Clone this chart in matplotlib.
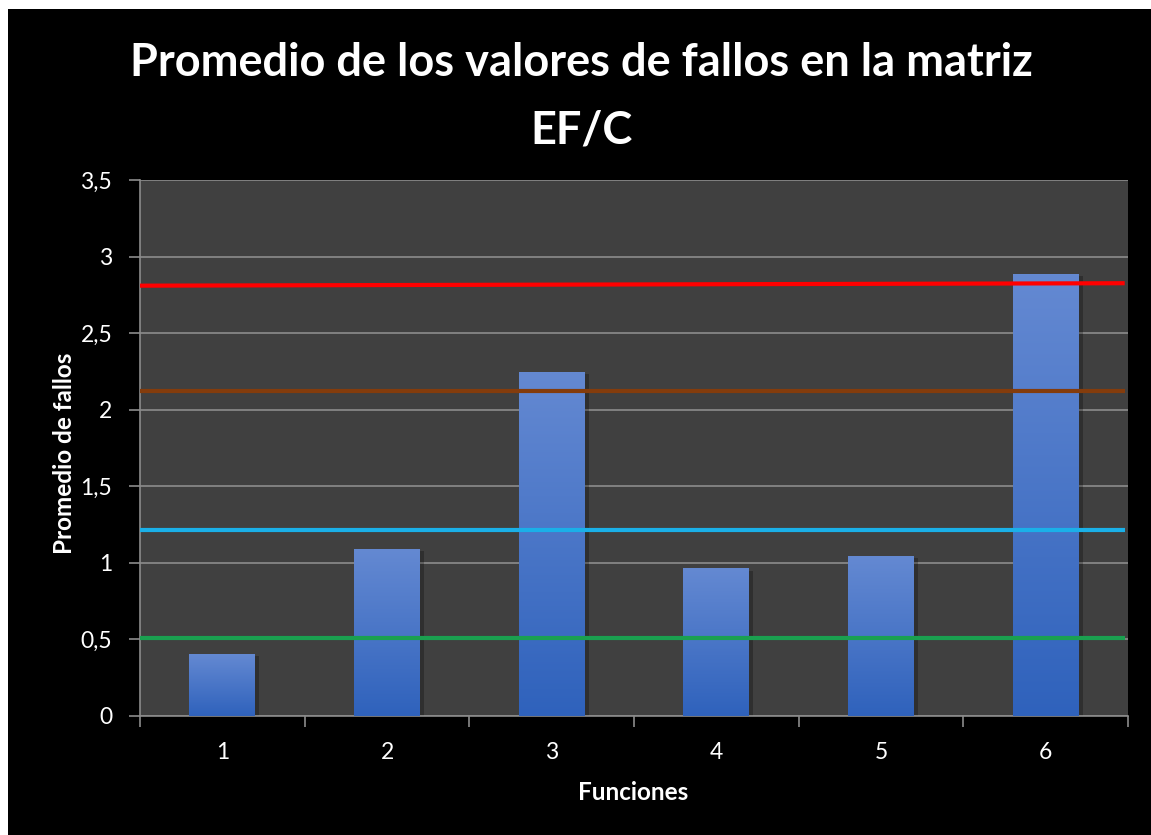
import numpy as np
import matplotlib.pyplot as plt
from matplotlib.colors import LinearSegmentedColormap

# Data
funciones = [1, 2, 3, 4, 5, 6]
promedios = [0.40, 1.09, 2.24, 0.96, 1.04, 2.88]

# Reference lines (value at left edge, value at right edge)
ref_lines = {
    'red': (2.81, 2.826),
    '#843c0c': (2.12, 2.12),
    '#1ab0e8': (1.215, 1.215),
    '#1aa050': (0.51, 0.51),
}
ref_colors = {'red': '#ff0000', '#843c0c': '#843c0c', '#1ab0e8': '#1ab0e8', '#1aa050': '#1aa050'}

plt.rcParams['font.family'] = ['Lato', 'DejaVu Sans']

fig = plt.figure(figsize=(11.51, 8.35), dpi=100, facecolor='white')
# black chart area with small white margin on top / left
fig.patches.append(plt.Rectangle((8 / 1151, 0), 1, 1 - 9 / 835, transform=fig.transFigure,
                                 facecolor='black', edgecolor='none', zorder=-10))

ax = fig.add_axes([140 / 1151, 1 - 716 / 835, (1128 - 140) / 1151, (716 - 180) / 835])
ax.set_facecolor('#404040')

xmin, xmax = 0.5, 6.5
ax.set_xlim(xmin, xmax)
ax.set_ylim(0, 3.5)

# gridlines
ax.set_yticks(np.arange(0, 3.51, 0.5))
ax.yaxis.grid(True, color='#8c8c8c', linewidth=1.2, zorder=1)
ax.set_axisbelow(True)

# gradient bars
cmap = LinearSegmentedColormap.from_list('bar', ['#2f62bc', '#6489d2'])
grad = np.linspace(0, 1, 256).reshape(-1, 1)
width = 0.4
for x, v in zip(funciones, promedios):
    # soft shadow
    ax.add_patch(plt.Rectangle((x - width / 2 + 0.015, 0), width + 0.01, v - 0.01,
                               facecolor='black', alpha=0.25, edgecolor='none', zorder=2))
    ax.imshow(grad, cmap=cmap, origin='lower', aspect='auto',
              extent=(x - width / 2, x + width / 2, 0, v), zorder=3)
ax.set_xlim(xmin, xmax)
ax.set_ylim(0, 3.5)

# horizontal reference lines
for key, (y0, y1) in ref_lines.items():
    ax.plot([xmin + 0.0, xmax - 0.02], [y0, y1], color=ref_colors[key], linewidth=3, zorder=4,
            solid_capstyle='butt')

# axes styling
for s in ['top', 'right']:
    ax.spines[s].set_visible(False)
ax.spines['left'].set_color('#8c8c8c')
ax.spines['bottom'].set_color('#8c8c8c')
ax.spines['left'].set_linewidth(1.2)
ax.spines['bottom'].set_linewidth(1.2)

ax.set_yticklabels([('%g' % t).replace('.', ',') for t in np.arange(0, 3.51, 0.5)])
ax.set_xticks(np.arange(0.5, 6.51, 1))
ax.set_xticklabels([])
ax.set_xticks(funciones, minor=True)
ax.set_xticklabels([str(f) for f in funciones], minor=True)
ax.tick_params(axis='x', which='major', length=8, color='#8c8c8c', width=1.2)
ax.tick_params(axis='x', which='minor', length=0, pad=19, labelsize=16.5, labelcolor='white')
ax.tick_params(axis='y', length=8, color='#8c8c8c', width=1.2, labelsize=16.5, labelcolor='white', pad=12)

ax.set_xlabel('Funciones', color='white', fontsize=17.5, fontweight='bold', va='center')
ax.xaxis.set_label_coords(0.5 + (633 - 634) / 988, (716 - 792) / 536)
ax.set_ylabel('Promedio de fallos', color='white', fontsize=17.5, fontweight='bold', va='center')
ax.yaxis.set_label_coords((65 - 140) / 988, 0.5 + (716 - 453 - 268) / 536)

fig.text(0.505, 1 - 63 / 835, 'Promedio de los valores de fallos en la matriz',
         ha='center', va='center', color='white', fontsize=32.5, fontweight='bold')
fig.text(0.505, 1 - 130 / 835, 'EF/C',
         ha='center', va='center', color='white', fontsize=32.5, fontweight='bold')

fig.savefig('out.png', dpi=100, facecolor='white')
